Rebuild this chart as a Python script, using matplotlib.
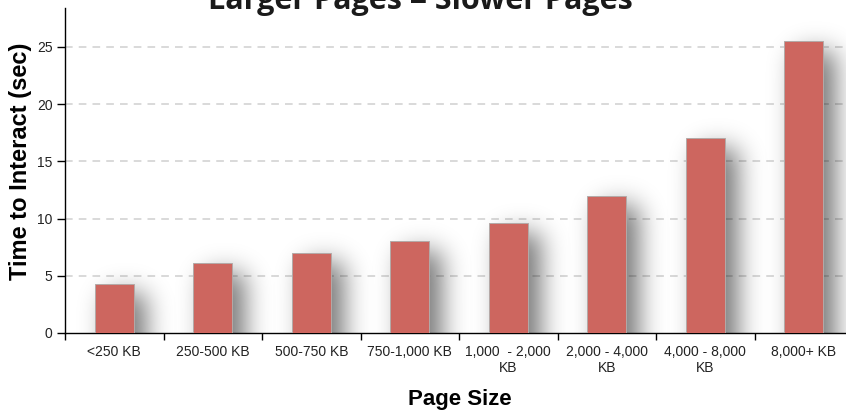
import math

import matplotlib
matplotlib.use("Agg")
import matplotlib.pyplot as plt
import numpy as np

categorias = ["<250 KB", "250-500 KB", "500-750 KB", "750-1,000 KB",
              "1,000  - 2,000\nKB", "2,000 - 4,000\nKB", "4,000 - 8,000\nKB",
              "8,000+ KB"]
tempos = [4.3, 6.1, 7.0, 8.0, 9.6, 12.0, 17.0, 25.5]
yticks = [0, 5, 10, 15, 20, 25]

BAR_COLOR = "#cd665f"
W, H, DPI = 846, 412, 100

fig = plt.figure(figsize=(W / DPI, H / DPI), dpi=DPI)
fig.patch.set_facecolor("white")

# eixos em pixels: esquerda 65, base 333, topo 8, 98.5 px por categoria
ax = fig.add_axes([65 / W, (H - 333) / H, 788 / W, 325 / H])
ax.set_xlim(-0.5, len(categorias) - 0.5)
ax.set_ylim(0, 28.4)

px_x = (len(categorias)) / 788.0
px_y = 28.4 / 325.0

_erf = np.vectorize(math.erf)


def _sombra(ax, xc, largura, altura):
    """Sombra desfocada deslocada para a direita/baixo da barra."""
    dx, dy, s = 12, 10, 18.0  # px
    x0 = xc - largura / 2 + dx * px_x
    x1 = xc + largura / 2 + dx * px_x
    y1 = altura - dy * px_y
    ext = 2.5 * s
    xs = np.linspace(x0 - ext * px_x, x1 + ext * px_x, 120)
    ys = np.linspace(0, y1 + ext * px_y, 220)
    fx = 0.5 * (_erf((xs - x0) / (s * px_x)) - _erf((xs - x1) / (s * px_x)))
    fy = 0.5 * (_erf((ys + 50) / (s * px_y)) - _erf((ys - y1) / (s * px_y)))
    alpha = 0.55 * np.outer(fy, fx)
    img = np.zeros((len(ys), len(xs), 4))
    img[..., 3] = alpha
    ax.imshow(img, extent=(xs[0], xs[-1], ys[0], ys[-1]), origin="lower",
              aspect="auto", zorder=1, interpolation="bilinear")


x = np.arange(len(categorias))
largura = 0.4
for xi, t in zip(x, tempos):
    _sombra(ax, xi, largura, t)

ax.bar(x, tempos, width=largura, color=BAR_COLOR, edgecolor="#b3aaa8",
       linewidth=0.7, zorder=3)

ax.set_xlim(-0.5, len(categorias) - 0.5)
ax.set_ylim(0, 28.4)

for v in yticks[1:]:
    ax.axhline(v, color="#cfcfcf", linestyle=(0, (5, 4)), linewidth=1.1,
               zorder=0.5)

for spine in ("top", "right"):
    ax.spines[spine].set_visible(False)
ax.spines["left"].set_linewidth(1.0)
ax.spines["bottom"].set_linewidth(1.0)

ax.set_yticks(yticks)
ax.set_yticklabels([str(v) for v in yticks], fontsize=10,
                   fontfamily="Liberation Sans", color="#222222")
ax.tick_params(axis="y", direction="out", length=6, width=1, pad=3)

ax.set_xticks(np.arange(-0.5, len(categorias), 1.0), minor=False)
ax.set_xticklabels([])
ax.tick_params(axis="x", direction="out", length=5, width=1)
ax.set_xticks(x, minor=True)
ax.set_xticklabels(categorias, minor=True, fontsize=10,
                   fontfamily="Liberation Sans", color="#222222",
                   linespacing=1.1)
ax.tick_params(axis="x", which="minor", length=0, pad=9)

fig.text(21 / W, 1 - 161 / H, "Time to Interact (sec)", fontsize=17,
         fontweight="bold", fontfamily="Liberation Sans", ha="center",
         va="center", rotation=90)
fig.text(460 / W, 1 - 405 / H, "Page Size", fontsize=16, fontweight="bold",
         fontfamily="Liberation Sans", ha="center", va="baseline")

# título cortado no topo da figura
fig.text(420 / W, 1 - 9 / H, "Larger Pages = Slower Pages", fontsize=22,
         fontweight="bold", fontfamily="Open Sans", ha="center",
         va="baseline", color="#1a1a1a")

fig.savefig("out.png", dpi=DPI, facecolor="white")
